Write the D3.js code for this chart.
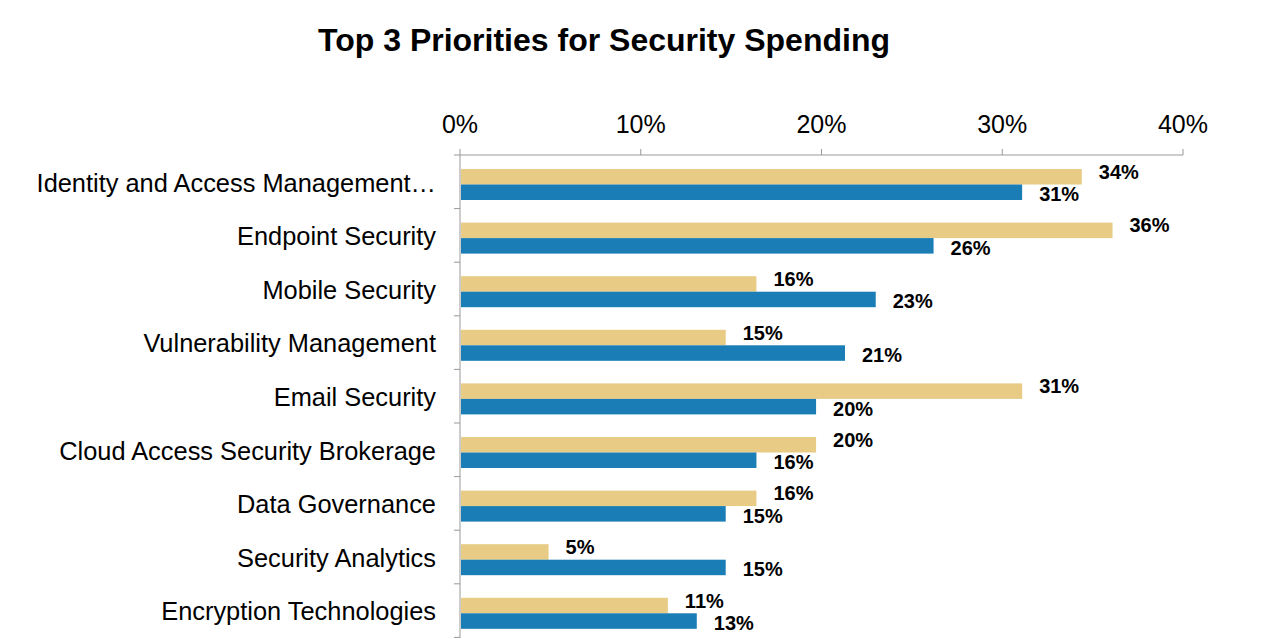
<!DOCTYPE html>
<html><head><meta charset="utf-8">
<script src="https://cdn.jsdelivr.net/npm/d3@7"></script>
<style>body{margin:0;background:#fff;font-family:"Liberation Sans",Arial,sans-serif}</style>
</head><body><div id="chart"></div>
<script>
const categories = ['Identity and Access Management…','Endpoint Security','Mobile Security','Vulnerability Management','Email Security','Cloud Access Security Brokerage','Data Governance','Security Analytics','Encryption Technologies','Network Security'];
const goldValues = [34.4, 36.1, 16.4, 14.7, 31.1, 19.7, 16.4, 4.9, 11.5, 11.2];
const blueValues = [31.1, 26.2, 23.0, 21.3, 19.7, 16.4, 14.7, 14.7, 13.1, 11.0];
const goldLabels = ['34%','36%','16%','15%','31%','20%','16%','5%','11%','11%'];
const blueLabels = ['31%','26%','23%','21%','20%','16%','15%','15%','13%','11%'];
const tickValues = [0, 10, 20, 30, 40];

const svg = d3.select('#chart').append('svg').attr('width', 1271).attr('height', 638);

svg.append('text').attr('x', 604).attr('y', 51).attr('text-anchor', 'middle')
  .style('font-weight', 'bold').style('font-size', '32px').text('Top 3 Priorities for Security Spending');

const x = d3.scaleLinear().domain([0, 40]).range([460, 1183]);
const y = d3.scaleBand().domain(categories).range([155, 155 + 53.6 * categories.length]);

// top axis
svg.append('line').attr('x1', 460).attr('x2', 1183).attr('y1', 155).attr('y2', 155).attr('stroke', '#999');
svg.selectAll('.xtick').data(tickValues).join('line')
  .attr('x1', d => x(d)).attr('x2', d => x(d)).attr('y1', 149).attr('y2', 155).attr('stroke', '#999');
svg.selectAll('.xlab').data(tickValues).join('text')
  .attr('x', d => x(d)).attr('y', 133).attr('text-anchor', 'middle')
  .style('font-size', '25px').text(d => d + '%');

// left axis
svg.append('line').attr('x1', 460).attr('x2', 460).attr('y1', 155).attr('y2', 638).attr('stroke', '#999');
svg.selectAll('.ytick').data(categories).join('line')
  .attr('x1', 454).attr('x2', 460).attr('y1', d => y(d)).attr('y2', d => y(d)).attr('stroke', '#999');
svg.selectAll('.ylab').data(categories).join('text')
  .attr('x', 436).attr('y', d => y(d) + y.bandwidth() / 2 + 1).attr('dy', '0.35em').attr('text-anchor', 'end')
  .style('font-size', '25.4px').text(d => d);

const barH = 15.5;
const mid = d => y(d) + 14 + barH;

svg.selectAll('.gold').data(categories).join('rect')
  .attr('x', 461).attr('y', d => mid(d) - barH).attr('height', barH)
  .attr('width', (d, i) => x(goldValues[i]) - 461).attr('fill', '#E8CB84');
svg.selectAll('.blue').data(categories).join('rect')
  .attr('x', 461).attr('y', d => mid(d)).attr('height', barH)
  .attr('width', (d, i) => x(blueValues[i]) - 461).attr('fill', '#1A7DB5');

svg.selectAll('.glab').data(categories).join('text')
  .attr('x', (d, i) => x(goldValues[i]) + 17).attr('y', d => mid(d) - barH / 2 - 5).attr('dy', '0.35em')
  .style('font-size', '20px').style('font-weight', 'bold').text((d, i) => goldLabels[i]);
svg.selectAll('.blab').data(categories).join('text')
  .attr('x', (d, i) => x(blueValues[i]) + 17).attr('y', d => mid(d) + barH / 2 + 2).attr('dy', '0.35em')
  .style('font-size', '20px').style('font-weight', 'bold').text((d, i) => blueLabels[i]);
</script></body></html>
